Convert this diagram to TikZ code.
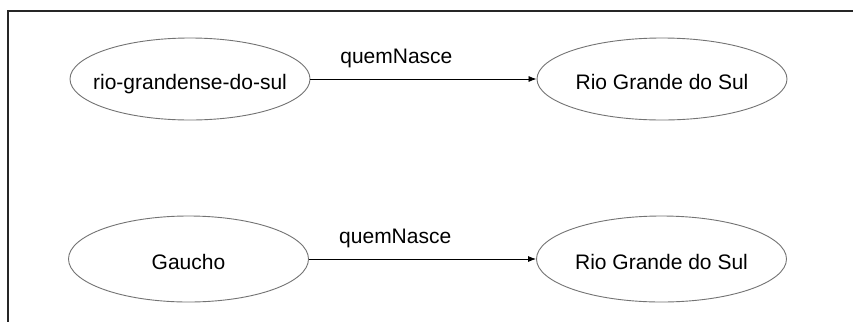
\documentclass[tikz,border=0pt]{standalone}
\usepackage{fontspec}
\setmainfont{Liberation Sans}
\usetikzlibrary{shapes.geometric,arrows.meta}

% text set on the centre of an ellipse without changing its size
\newcommand\ovaltext[1]{\makebox[0pt]{\smash{\raisebox{-10pt}{#1}}}}

\begin{document}
\begin{tikzpicture}[x=1pt,y=-1pt,
  concept/.style={ellipse, draw=black!55, line width=0.9pt, inner sep=0pt,
    minimum width=240pt, minimum height=82pt,
    font=\fontsize{21}{21}\selectfont},
  wide/.style={minimum width=250pt},
  relation/.style={draw=black, line width=0.8pt,
    -{Latex[length=8pt,width=6pt]}},
  rellabel/.style={font=\fontsize{21}{21}\selectfont, anchor=base,
    inner sep=0pt, pos=0.38, yshift=16pt}]

  \useasboundingbox (0,0) rectangle (853,322);
  \fill[white] (0,0) rectangle (853,322);

  % frame
  \draw[line width=1.4pt, black!85] (853,11) -- (8,11) -- (8,322);

  % first statement
  \node[concept] (rgs) at (190,79) {\ovaltext{rio-grandense-do-sul}};
  \node[concept, wide] (rs1) at (662,79) {\ovaltext{Rio Grande do Sul}};
  \draw[relation] (rgs) -- node[rellabel] {quemNasce} (rs1);

  % second statement
  \node[concept, minimum height=86pt] (gaucho) at (188.5,259) {\ovaltext{Gaucho}};
  \node[concept, wide, minimum height=86pt] (rs2) at (661.5,259) {\ovaltext{Rio Grande do Sul}};
  \draw[relation] (gaucho) -- node[rellabel] {quemNasce} (rs2);
\end{tikzpicture}
\end{document}
